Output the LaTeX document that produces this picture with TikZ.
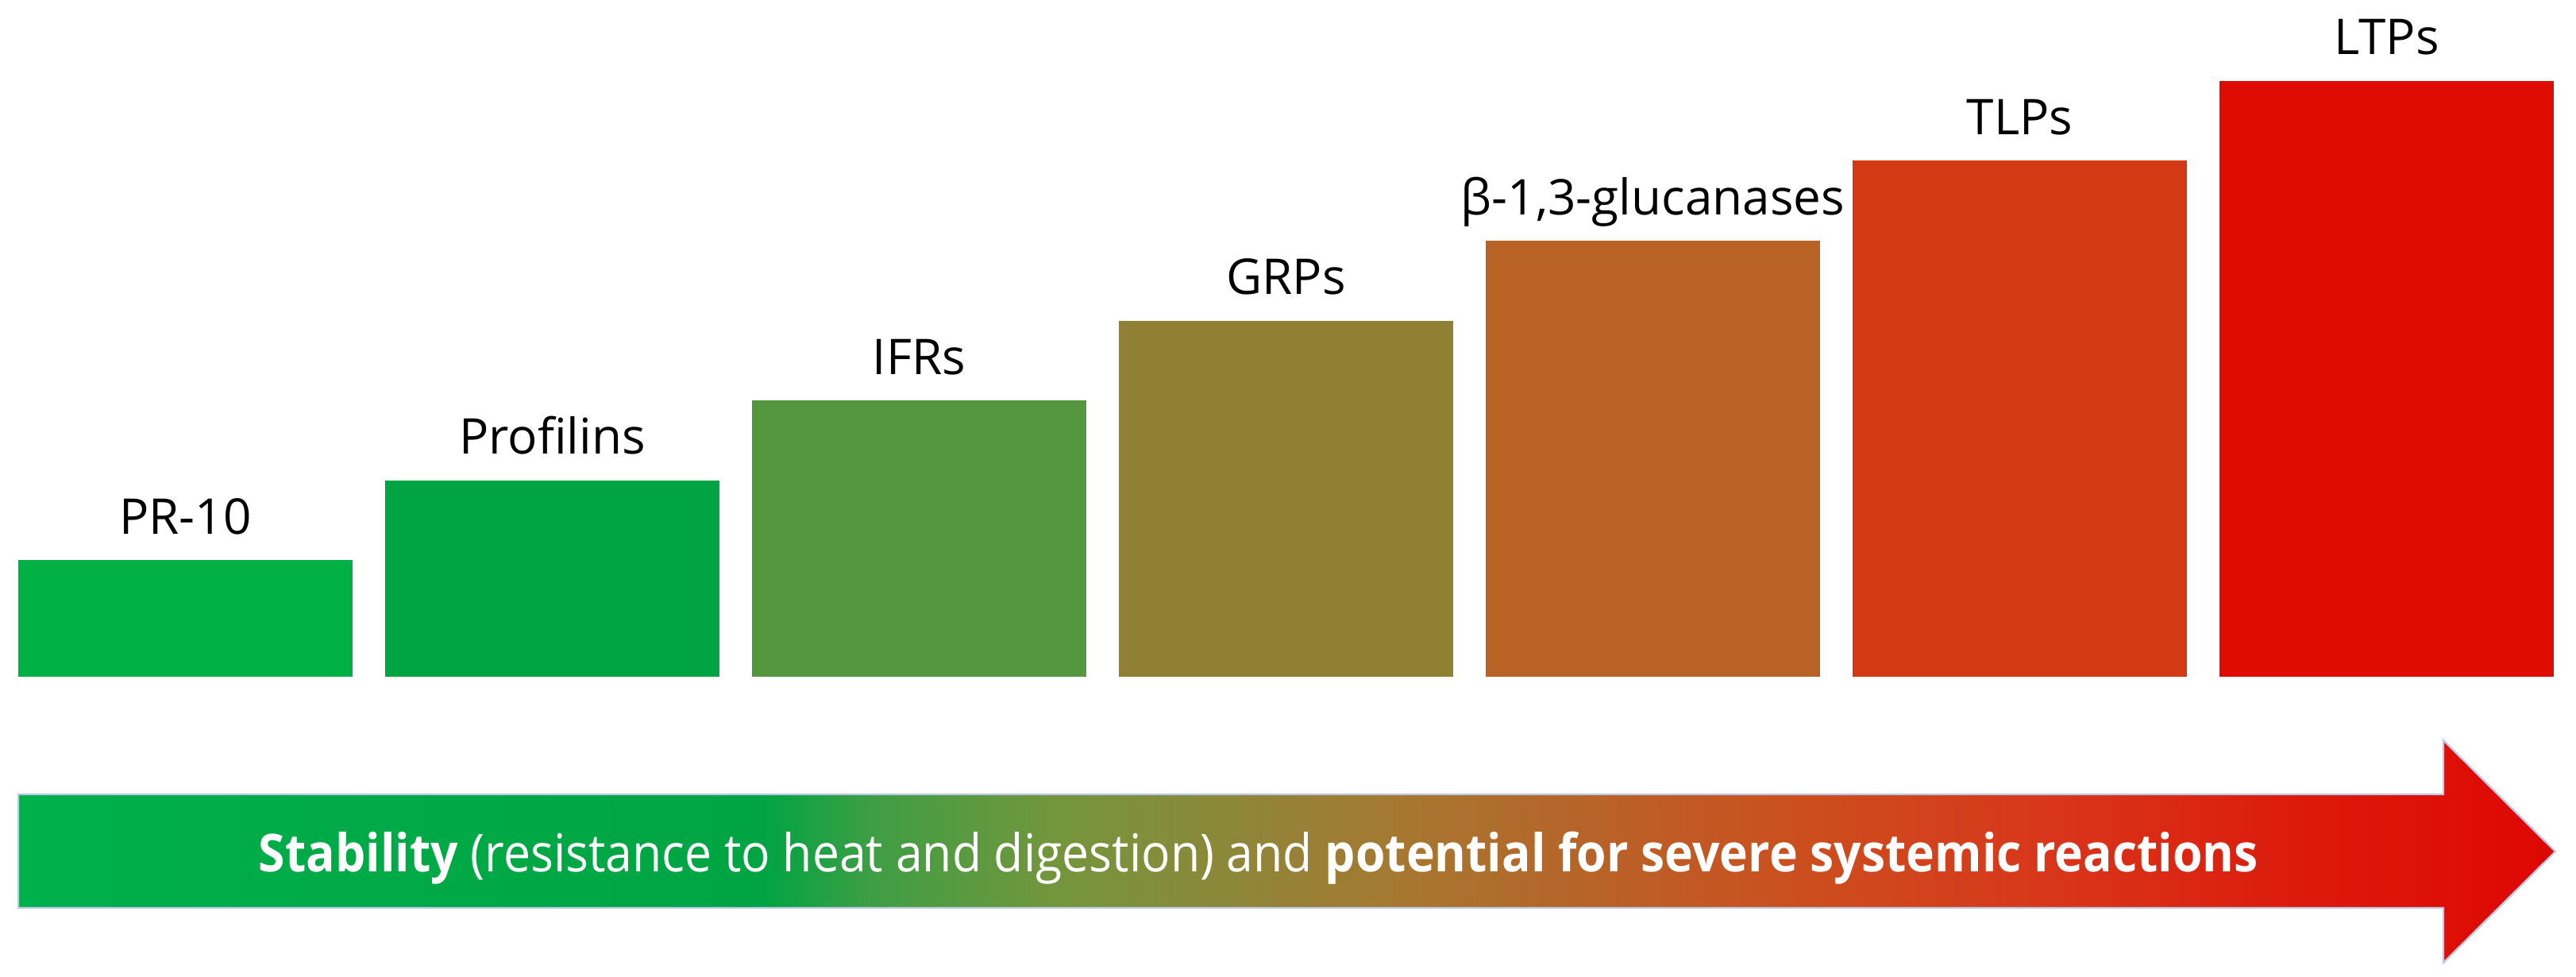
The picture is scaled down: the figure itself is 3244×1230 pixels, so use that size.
\documentclass[tikz,border=0pt]{standalone}
\usepackage{fontspec}
\setmainfont{Open Sans}
\usepackage{graphicx}
\definecolor{cA}{HTML}{00B045}
\definecolor{cB}{HTML}{00A443}
\definecolor{cC}{HTML}{55973F}
\definecolor{cD}{HTML}{908033}
\definecolor{cE}{HTML}{B86225}
\definecolor{cF}{HTML}{D33A14}
\definecolor{cG}{HTML}{DE0C03}
\definecolor{s0}{HTML}{00B04A}
\definecolor{s1}{HTML}{00A443}
\definecolor{s2}{HTML}{3E9E44}
\definecolor{s3}{HTML}{73963C}
\definecolor{s4}{HTML}{8D873A}
\definecolor{s5}{HTML}{A67830}
\definecolor{s6}{HTML}{B5662A}
\definecolor{s7}{HTML}{CC4E1E}
\definecolor{s8}{HTML}{D8361A}
\definecolor{s9}{HTML}{DC1A0C}
\definecolor{s10}{HTML}{DE0702}
\definecolor{arrowedge}{HTML}{BDCBE6}
\pgfdeclarehorizontalshading{stabshade}{100bp}{color(0bp)=(s0); color(25bp)=(s0); color(39.7bp)=(s1); color(41.8bp)=(s2); color(45.4bp)=(s3); color(48.9bp)=(s4); color(52.2bp)=(s5); color(55.4bp)=(s6); color(60.2bp)=(s7); color(65.1bp)=(s8); color(70bp)=(s9); color(75bp)=(s10); color(100bp)=(s10)}
\begin{document}
\begin{tikzpicture}[x=0.25pt,y=-0.25pt,
  bar/.style={draw=none, inner sep=0pt, outer sep=0pt, minimum width=105.25pt, anchor=south west},
  lab/.style={anchor=base, inner sep=0pt, font=\fontsize{15.5}{18}\selectfont}]
\useasboundingbox (0,0) rectangle (3244,1230);
% bars
\node[bar, fill=cA, minimum height=36.75pt]  (b1) at (23,852) {};
\node[bar, fill=cB, minimum height=61.875pt] (b2) at (485,852) {};
\node[bar, fill=cC, minimum height=87pt]     (b3) at (947,852) {};
\node[bar, fill=cD, minimum height=112.125pt](b4) at (1409,852) {};
\node[bar, fill=cE, minimum height=137.25pt] (b5) at (1871,852) {};
\node[bar, fill=cF, minimum height=162.375pt](b6) at (2333,852) {};
\node[bar, fill=cG, minimum height=187.5pt]  (b7) at (2795,852) {};
% labels
\node[lab] (t1) at ([yshift=8.25pt]b1.north) {PR-10};
\node[lab] (t2) at ([yshift=8.25pt]b2.north) {Profilins};
\node[lab] (t3) at ([yshift=8.25pt]b3.north) {IFRs};
\node[lab] (t4) at ([yshift=8.25pt]b4.north) {GRPs};
\node[lab] (t5) at ([yshift=8.25pt]b5.north) {β-1,3-glucanases};
\node[lab] (t6) at ([yshift=8.25pt]b6.north) {TLPs};
\node[lab] (t7) at ([yshift=8.25pt]b7.north) {LTPs};
% arrow
\shadedraw[shading=stabshade, draw=arrowedge, line width=0.6pt, line join=miter]
  (23,1000) -- (3077,1000) -- (3077,932) -- (3218,1072) -- (3077,1212) -- (3077,1143) -- (23,1143) -- cycle;
\node[anchor=base west, inner sep=0pt, text=white, font=\fontsize{16.45}{20}\selectfont] (cap) at (325,1097)
  {\resizebox{629.5pt}{\height}{\textbf{Stability} (resistance to heat and digestion) and \textbf{potential for severe systemic reactions}}};
\end{tikzpicture}
\end{document}
